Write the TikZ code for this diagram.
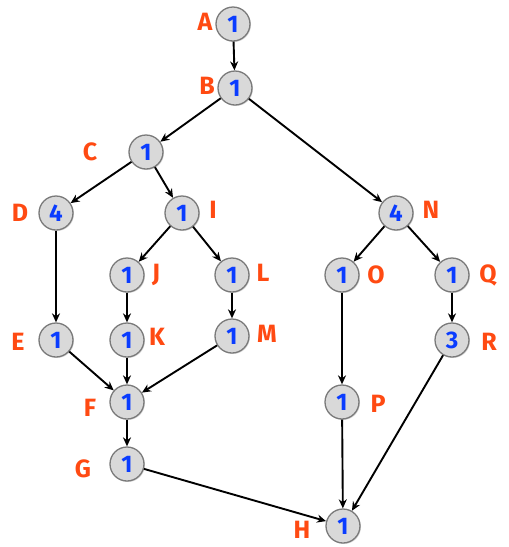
\documentclass[tikz,border=0pt]{standalone}
\usepackage{fontspec}
\setmainfont{Fira Sans}
\usetikzlibrary{arrows.meta,shadows}
\definecolor{lbl}{HTML}{FF4A12}
\definecolor{num}{HTML}{0A3CFF}
\definecolor{nfill}{HTML}{D9D9D9}
\definecolor{nbord}{HTML}{7A7A7A}
\begin{document}
\begin{tikzpicture}[x=1pt,y=-1pt,
  vtx/.style={circle,draw=nbord,line width=1.3pt,fill=nfill,minimum size=34pt,inner sep=0pt,
    font=\fontsize{24}{24}\selectfont\bfseries,text=num,
    drop shadow={shadow xshift=1pt,shadow yshift=-1pt,opacity=0.3}},
  lab/.style={font=\fontsize{25}{25}\selectfont\bfseries,text=lbl},
  edge/.style={line width=1.9pt,-{Stealth[length=9pt,width=8pt]}}]
\useasboundingbox (0,0) rectangle (509,547);
\node[vtx] (A) at (233,24) {1};
\node[vtx] (B) at (235,88) {1};
\node[vtx] (C) at (146,152) {1};
\node[vtx] (D) at (56,213) {4};
\node[vtx] (I) at (182,213) {1};
\node[vtx] (N) at (396,213) {4};
\node[vtx] (J) at (127,275) {1};
\node[vtx] (L) at (232,275) {1};
\node[vtx] (O) at (342,275) {1};
\node[vtx] (Q) at (452,275) {1};
\node[vtx] (E) at (56,340) {1};
\node[vtx] (K) at (127,340) {1};
\node[vtx] (M) at (232,336) {1};
\node[vtx] (R) at (452,340) {3};
\node[vtx] (F) at (127,402) {1};
\node[vtx] (P) at (342,402) {1};
\node[vtx] (G) at (127,464) {1};
\node[vtx] (H) at (343,526) {1};
\node[lab] (lA) at (205,22) {A};
\node[lab] (lB) at (207,86) {B};
\node[lab] (lC) at (90,152) {C};
\node[lab] (lD) at (20,213) {D};
\node[lab] (lI) at (213,210) {I};
\node[lab] (lN) at (431,210) {N};
\node[lab] (lJ) at (156,275) {J};
\node[lab] (lL) at (263,273) {L};
\node[lab] (lO) at (376,275) {O};
\node[lab] (lQ) at (488,275) {Q};
\node[lab] (lE) at (18,342) {E};
\node[lab] (lK) at (157,337) {K};
\node[lab] (lM) at (267,334) {M};
\node[lab] (lR) at (489,342) {R};
\node[lab] (lF) at (90,408) {F};
\node[lab] (lP) at (378,404) {P};
\node[lab] (lG) at (83,469) {G};
\node[lab] (lH) at (302,530) {H};
\draw[edge] (A) -- (B);
\draw[edge] (B) -- (C);
\draw[edge] (B) -- (N);
\draw[edge] (C) -- (D);
\draw[edge] (C) -- (I);
\draw[edge] (I) -- (J);
\draw[edge] (I) -- (L);
\draw[edge] (N) -- (O);
\draw[edge] (N) -- (Q);
\draw[edge] (D) -- (E);
\draw[edge] (J) -- (K);
\draw[edge] (L) -- (M);
\draw[edge] (Q) -- (R);
\draw[edge] (O) -- (P);
\draw[edge] (E) -- (F);
\draw[edge] (K) -- (F);
\draw[edge] (M) -- (F);
\draw[edge] (F) -- (G);
\draw[edge] (G) -- (H);
\draw[edge] (P) -- (H);
\draw[edge] (R) -- (H);
\end{tikzpicture}
\end{document}
